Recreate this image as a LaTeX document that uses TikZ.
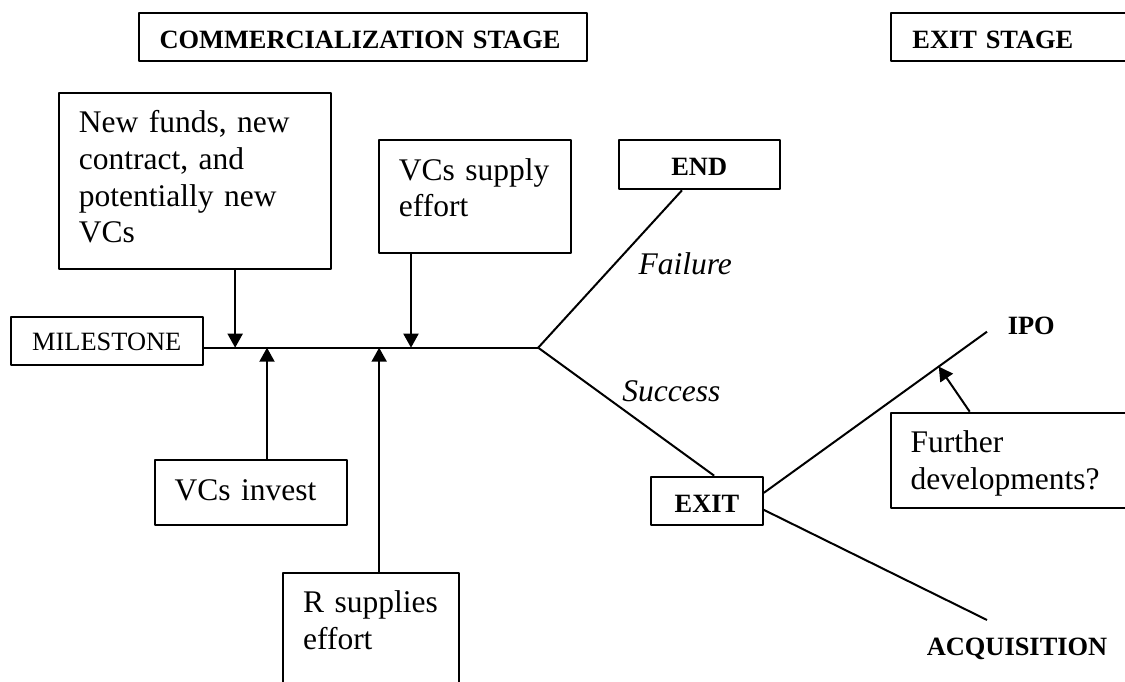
\documentclass[tikz,border=0pt]{standalone}
\usepackage{fontspec}
\setmainfont{Liberation Serif}
\usetikzlibrary{arrows.meta}
\newcommand{\bodyfont}{\fontsize{31.5bp}{36.7bp}\selectfont}
\newcommand{\headfont}{\fontsize{26.4bp}{31bp}\selectfont}
\begin{document}
\begin{tikzpicture}[>={Triangle[length=14bp,width=15bp]},line join=bevel,
  tbox/.style={draw,anchor=north west,align=left,inner xsep=20bp,inner ysep=0pt,text height=40bp,font=\bodyfont},
  hbox/.style={draw,anchor=north west,align=center,inner xsep=0pt,inner ysep=0pt,font=\headfont\bfseries},
  lbl/.style={anchor=base west,inner sep=0pt}]
  \pgfsetlinewidth{2bp}
  \useasboundingbox (0bp,0bp) rectangle (1125bp,682bp);
  \clip (0bp,0bp) rectangle (1125bp,682bp);
%%
\pgfsetcolor{black}
  % Node: comm
  \node[hbox,align=left,inner xsep=21bp,text width=406.8bp,text height=35.3bp,text depth=12.7bp] (comm) at (137.5bp,670bp) {COMMERCIALIZATION STAGE};
  % Node: exitstg
  \node[hbox,align=left,inner xsep=21.7bp,text width=211.9bp,text height=36bp,text depth=12bp] (exitstg) at (889.7bp,670bp) {EXIT STAGE};
  % Node: newfunds
  \node[tbox,text width=232.5bp,text depth=136bp] (newfunds) at (57.9bp,590.3bp) {New funds, new\\contract, and\\potentially new\\VCs};
  % Node: vcsupply
  \node[tbox,text width=152.2bp,text depth=73bp] (vcsupply) at (377.9bp,542.7bp) {VCs supply\\effort};
  % Node: endbox
  \node[hbox,text width=161bp,text height=35.7bp,text depth=13.3bp] (endbox) at (617.7bp,542.7bp) {END};
  % Node: milestone
  \node[hbox,font=\headfont,text width=192.2bp,text height=34.3bp,text depth=14bp] (milestone) at (9.6bp,366.3bp) {MILESTONE};
  % Node: vcsinvest
  \node[tbox,text width=152.8bp,text depth=24.7bp] (vcsinvest) at (153.6bp,222.7bp) {VCs invest};
  % Node: rsupplies
  \node[tbox,text width=136.1bp,text depth=90bp] (rsupplies) at (282.1bp,110.3bp) {R supplies\\effort};
  % Node: exitbox
  \node[hbox,text width=111.7bp,text height=36bp,text depth=12.3bp] (exitbox) at (650.1bp,206.3bp) {EXIT};
  % Node: further
  \node[tbox,text width=215.3bp,text depth=55.6bp] (further) at (889.7bp,270.3bp) {Further\\developments?};
  % Labels
  \node[lbl,font=\bodyfont\itshape] (failure) at (637.5bp,407bp) {Failure};
  \node[lbl,font=\bodyfont\itshape] (success) at (621.3bp,280.3bp) {Success};
  \node[lbl,font=\headfont\bfseries] (ipo) at (1006.8bp,347bp) {IPO};
  \node[lbl,font=\headfont\bfseries] (acq) at (925.8bp,27bp) {ACQUISITION};
  \coordinate (fork) at (538.2bp,334.3bp);
  \coordinate (ipoend) at (987bp,350.3bp);
  \coordinate (acqend) at (987bp,62bp);
  % Edge: milestone -> fork
  \draw (milestone.east |- fork) -- (fork);
  % Edge: fork -> endbox
  \draw (fork) -- (endbox.236);
  % Edge: fork -> exitbox
  \draw (fork) -- (exitbox.74);
  % Edge: exitbox -> ipo
  \draw (exitbox.8) -- coordinate[pos=0.784] (ipomid) (ipoend);
  % Edge: exitbox -> acq
  \draw (exitbox.-9) -- (acqend);
  % Edge: newfunds -> line
  \draw [->] ([xshift=40bp]newfunds.south) -- ([xshift=40bp]newfunds.south |- fork);
  % Edge: vcsupply -> line
  \draw [->] ([xshift=-64bp]vcsupply.south) -- ([xshift=-64bp]vcsupply.south |- fork);
  % Edge: vcsinvest -> line
  \draw [->] ([xshift=16bp]vcsinvest.north) -- ([xshift=16bp]vcsinvest.north |- fork);
  % Edge: rsupplies -> line
  \draw [->] ([xshift=8bp]rsupplies.north) -- ([xshift=8bp]rsupplies.north |- fork);
  % Edge: further -> ipo line
  \draw [->] ([xshift=80bp]further.north west) -- (ipomid);
%
\end{tikzpicture}
\end{document}
